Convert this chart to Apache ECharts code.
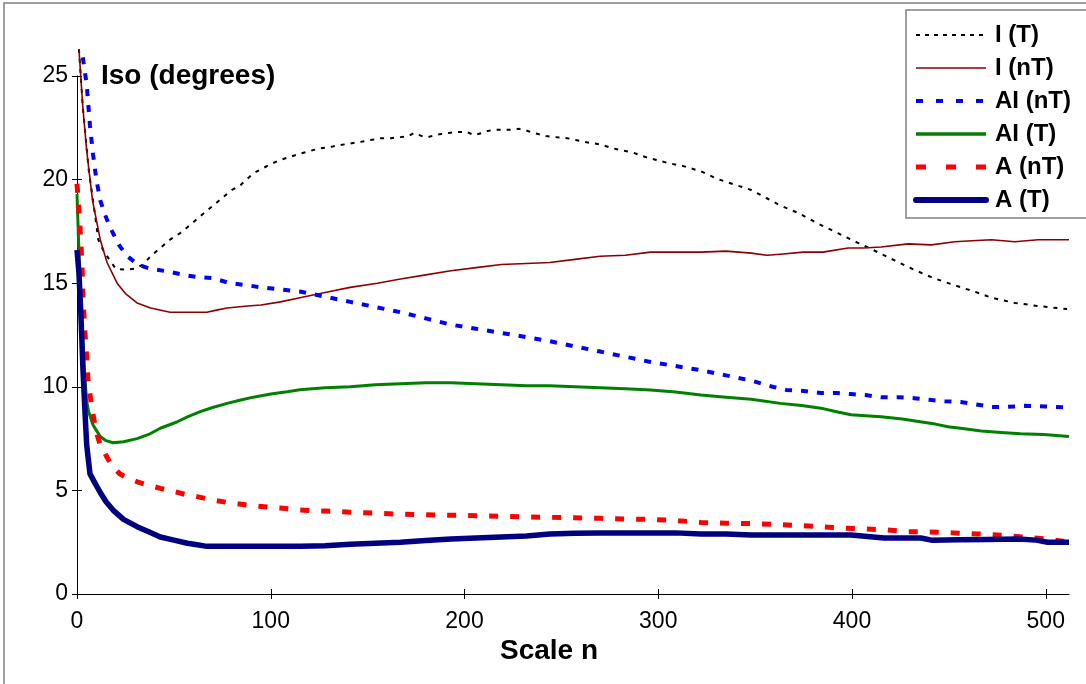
<!DOCTYPE html>
<html>
<head>
<meta charset="utf-8">
<script src="https://cdn.jsdelivr.net/npm/echarts@6/dist/echarts.min.js"></script>
<style>
html,body{margin:0;padding:0;background:#fff;}
#chart{width:1086px;height:684px;}
</style>
</head>
<body>
<div id="chart"></div>
<script>
// ---- data ----
const xTicks = [0, 100, 200, 300, 400, 500];
const yTicks = [0, 5, 10, 15, 20, 25];
const seriesNames = ['I (T)', 'I (nT)', 'AI (nT)', 'AI (T)', 'A (nT)', 'A (T)'];

const iT_n = [1, 3, 6, 9, 11, 14, 17, 20, 25, 30, 34, 38, 43, 48, 53, 57, 62, 67, 71, 76, 80, 84, 88, 91, 96, 100, 105, 110, 115, 119, 125, 132, 138, 145, 151, 157, 162, 167, 171, 174, 178, 181, 185, 188, 192, 195, 198, 201, 205, 209, 212, 215, 220, 224, 228, 231, 234, 238, 242, 247, 253, 258, 263, 270, 277, 282, 287, 293, 299, 305, 313, 322, 330, 338, 348, 356, 363, 372, 382, 393, 403, 411, 422, 432, 442, 453, 463, 472, 484, 496, 509, 511];
const iT_v = [26.3, 23.5, 20.5, 18.5, 17.1, 16.5, 16.1, 15.7, 15.65, 15.7, 15.9, 16.3, 16.7, 17.1, 17.4, 17.7, 18.1, 18.5, 18.8, 19.2, 19.5, 19.7, 20.05, 20.3, 20.55, 20.75, 20.95, 21.1, 21.25, 21.35, 21.5, 21.6, 21.7, 21.8, 21.9, 22.0, 22.0, 22.05, 22.1, 22.25, 22.1, 22.05, 22.15, 22.2, 22.25, 22.3, 22.3, 22.3, 22.15, 22.25, 22.35, 22.4, 22.4, 22.4, 22.45, 22.4, 22.3, 22.2, 22.1, 22.05, 22.0, 21.9, 21.8, 21.7, 21.5, 21.4, 21.3, 21.1, 20.95, 20.8, 20.65, 20.4, 20.05, 19.8, 19.5, 19.1, 18.75, 18.4, 17.9, 17.4, 16.95, 16.6, 16.1, 15.65, 15.25, 14.9, 14.6, 14.3, 14.05, 13.9, 13.77, 13.75];

const inT_n = [1, 3, 5, 8, 12, 15.5, 20.7, 25, 31, 38, 48, 57, 67, 72, 77.5, 88, 95, 105, 115, 128, 141, 155, 167, 180, 193, 206, 219, 232, 244, 257, 270, 283, 296, 309, 322, 335, 348, 356, 363, 375, 385, 398, 406, 415, 429, 441, 453, 462, 472, 484, 496, 505, 512];
const inT_v = [26.3, 23.5, 21.4, 19.0, 17.1, 16.0, 15.0, 14.5, 14.05, 13.8, 13.6, 13.6, 13.6, 13.7, 13.8, 13.9, 13.95, 14.1, 14.3, 14.55, 14.8, 15.0, 15.2, 15.4, 15.6, 15.75, 15.9, 15.95, 16.0, 16.15, 16.3, 16.35, 16.5, 16.5, 16.5, 16.55, 16.45, 16.35, 16.4, 16.5, 16.5, 16.7, 16.7, 16.75, 16.9, 16.85, 17.0, 17.05, 17.1, 17.0, 17.1, 17.1, 17.1];

const ainT_n = [3, 5, 6.7, 8.3, 10, 12, 14.5, 17, 22, 26, 31.5, 36, 41, 48, 55, 62, 70, 79, 88, 95, 105, 115, 128, 141, 154, 167, 180, 193, 206, 219, 232, 244, 257, 270, 283, 296, 309, 322, 335, 348, 357, 366, 375, 384, 392, 399.5, 407, 415, 424, 432, 440, 448, 456, 464, 472, 480, 489, 500, 512];
const ainT_v = [25.9, 24.6, 22.6, 21.2, 20.0, 19.0, 18.3, 17.7, 16.8, 16.3, 15.9, 15.75, 15.65, 15.55, 15.4, 15.3, 15.25, 15.0, 14.9, 14.8, 14.7, 14.6, 14.35, 14.1, 13.85, 13.6, 13.3, 13.0, 12.8, 12.6, 12.4, 12.2, 11.95, 11.7, 11.45, 11.2, 11.0, 10.8, 10.55, 10.3, 10.05, 9.85, 9.8, 9.7, 9.7, 9.65, 9.6, 9.5, 9.5, 9.45, 9.37, 9.3, 9.27, 9.15, 9.03, 9.03, 9.08, 9.05, 9.0];

const aiT_n = [0, 1, 2, 3, 4, 5, 6, 8.3, 12, 15, 18.6, 24, 31, 37, 43, 51.5, 57, 63.6, 70, 77.5, 84, 91, 100, 108.5, 115, 128, 141, 154, 167, 180, 193, 206, 219, 232, 244, 257, 270, 283, 296, 309, 322, 335, 348, 363, 374, 384, 392, 399.5, 407, 415, 426, 436, 443, 449.6, 458, 466.7, 477, 487, 499, 512];
const aiT_v = [19.3, 16.5, 14.0, 12.0, 10.5, 9.3, 8.8, 8.15, 7.6, 7.4, 7.3, 7.35, 7.5, 7.7, 8.0, 8.3, 8.55, 8.8, 9.0, 9.2, 9.35, 9.5, 9.65, 9.76, 9.86, 9.95, 10.0, 10.1, 10.15, 10.2, 10.2, 10.15, 10.1, 10.05, 10.05, 10.0, 9.95, 9.9, 9.85, 9.75, 9.6, 9.5, 9.4, 9.2, 9.1, 8.97, 8.8, 8.65, 8.6, 8.56, 8.45, 8.3, 8.2, 8.07, 7.97, 7.87, 7.8, 7.73, 7.7, 7.6];

const anT_n = [0, 1, 2, 2.6, 3.1, 4, 5, 5.7, 7.8, 10, 12, 15.5, 18, 22, 26, 31.5, 37, 43, 50, 56, 62, 69, 79, 91, 105, 115, 128, 141, 154, 167, 180, 193, 206, 219, 232, 244, 257, 270, 283, 296, 309, 322, 335, 348, 361, 374, 388, 403, 416.5, 429, 439, 452, 465, 475, 488, 501, 512];
const anT_v = [19.8, 18.5, 17, 15.8, 14.3, 12.75, 11.45, 10.3, 8.9, 7.8, 7.2, 6.6, 6.2, 5.8, 5.6, 5.4, 5.25, 5.1, 4.95, 4.8, 4.7, 4.55, 4.4, 4.25, 4.15, 4.05, 4.0, 3.95, 3.9, 3.85, 3.82, 3.8, 3.78, 3.75, 3.72, 3.7, 3.68, 3.65, 3.62, 3.6, 3.55, 3.45, 3.42, 3.4, 3.35, 3.3, 3.22, 3.15, 3.1, 3.0, 3.0, 2.95, 2.9, 2.85, 2.75, 2.65, 2.5];

const aT_n = [0, 1, 2, 2.5, 3, 4, 5, 6.7, 9, 12, 15, 18.6, 24, 31, 37, 43, 50, 57, 62, 67, 80, 95, 115, 128, 141, 154, 167, 180, 193, 206, 219, 232, 244, 257, 270, 283, 296, 309, 322, 335, 348, 361, 374, 387, 399.5, 408, 416.5, 426, 435.6, 441, 455, 470, 486, 495, 501, 512];
const aT_v = [16.6, 15.5, 13.5, 12.3, 11.0, 9.0, 7.2, 5.8, 5.4, 4.9, 4.45, 4.05, 3.6, 3.25, 3.0, 2.75, 2.6, 2.45, 2.38, 2.3, 2.3, 2.3, 2.3, 2.33, 2.4, 2.45, 2.5, 2.58, 2.65, 2.7, 2.75, 2.8, 2.9, 2.93, 2.95, 2.95, 2.95, 2.95, 2.9, 2.9, 2.85, 2.85, 2.85, 2.85, 2.85, 2.78, 2.7, 2.7, 2.7, 2.6, 2.62, 2.63, 2.65, 2.6, 2.5, 2.5];

// ---- build ----
const pairs = (n, v) => n.map((x, i) => [x, v[i]]);
const FONT = 'Liberation Sans, Arial, sans-serif';

const styles = [
  {color: '#000000', width: 2, dash: [4, 6], lw: 2, ldash: [4, 5]},
  {color: '#8b0000', width: 1.6, dash: null, lw: 1.6, ldash: null},
  {color: '#0000ff', width: 4, dash: [7, 9], lw: 4, ldash: [7, 13]},
  {color: '#008000', width: 3, dash: null, lw: 3.5, ldash: null},
  {color: '#ff0000', width: 5, dash: [9, 12], lw: 5, ldash: [10, 20]},
  {color: '#000080', width: 5.5, dash: null, lw: 6, ldash: null}
];
const seriesData = [pairs(iT_n, iT_v), pairs(inT_n, inT_v), pairs(ainT_n, ainT_v), pairs(aiT_n, aiT_v), pairs(anT_n, anT_v), pairs(aT_n, aT_v)];

const chart = echarts.init(document.getElementById('chart'), null, {renderer: 'canvas'});

const series = seriesNames.map((name, i) => ({
  name, type: 'line', data: seriesData[i], symbol: 'none', showSymbol: false, clip: false,
  xAxisIndex: 0, yAxisIndex: 0, animation: false,
  lineStyle: {color: styles[i].color, width: styles[i].width, type: styles[i].dash || 'solid', cap: 'butt', join: 'round'},
  itemStyle: {color: styles[i].color}
}));

const legendData = seriesNames.map((name, i) => ({
  name,
  itemStyle: {opacity: 0},
  lineStyle: {color: styles[i].color, width: styles[i].lw, type: styles[i].ldash || 'solid', opacity: 1, cap: i === 5 ? 'round' : 'butt'}
}));

const axisCommon = {
  min: 0,
  axisLine: {show: true, lineStyle: {color: '#000', width: 1}},
  splitLine: {show: false}
};

const option = {
  backgroundColor: '#fff',
  animation: false,
  grid: {left: 77, right: 17, top: 76, bottom: 90, containLabel: false},
  xAxis: [
    Object.assign({}, axisCommon, {
      type: 'value', max: 512, interval: 100, position: 'bottom',
      axisTick: {show: true, inside: false, length: 5, customValues: xTicks, lineStyle: {color: '#000'}},
      axisLabel: {customValues: xTicks, margin: 16, fontSize: 23, color: '#000', fontFamily: FONT}
    }),
    Object.assign({}, axisCommon, {
      type: 'value', max: 512, interval: 100, position: 'bottom',
      axisLine: {show: false},
      axisTick: {show: true, inside: true, length: 5, customValues: xTicks, lineStyle: {color: '#000'}},
      axisLabel: {show: false}
    })
  ],
  yAxis: [
    Object.assign({}, axisCommon, {
      type: 'value', max: 25, interval: 5, position: 'left',
      axisTick: {show: true, inside: false, length: 5, customValues: yTicks, lineStyle: {color: '#000'}},
      axisLabel: {customValues: yTicks, margin: 9, fontSize: 23, color: '#000', fontFamily: FONT}
    }),
    Object.assign({}, axisCommon, {
      type: 'value', max: 25, interval: 5, position: 'left',
      axisLine: {show: false},
      axisTick: {show: true, inside: true, length: 5, customValues: yTicks, lineStyle: {color: '#000'}},
      axisLabel: {show: false}
    })
  ],
  legend: {
    orient: 'vertical', left: 906, top: 10,
    padding: [13, 80, 6, 7],
    itemWidth: 70, itemHeight: 20, itemGap: 9,
    borderColor: '#808080', borderWidth: 1.5,
    backgroundColor: '#fff',
    itemStyle: {opacity: 0},
    data: legendData,
    textStyle: {fontSize: 24, fontWeight: 'bold', color: '#000', fontFamily: FONT, padding: [0, 0, 0, 4]}
  },
  graphic: [
    {type: 'rect', shape: {x: 4, y: 3, width: 1200, height: 900}, style: {fill: 'none', stroke: '#808080', lineWidth: 1.5}, silent: true, z: -10},
    {type: 'text', left: 101, top: 62, style: {text: 'Iso (degrees)', font: 'bold 28px ' + FONT, fill: '#000'}},
    {type: 'text', x: 549, y: 651, style: {text: 'Scale n', font: 'bold 28px ' + FONT, fill: '#000', textAlign: 'center', textVerticalAlign: 'middle'}}
  ],
  series
};
chart.setOption(option);
</script>
</body>
</html>
